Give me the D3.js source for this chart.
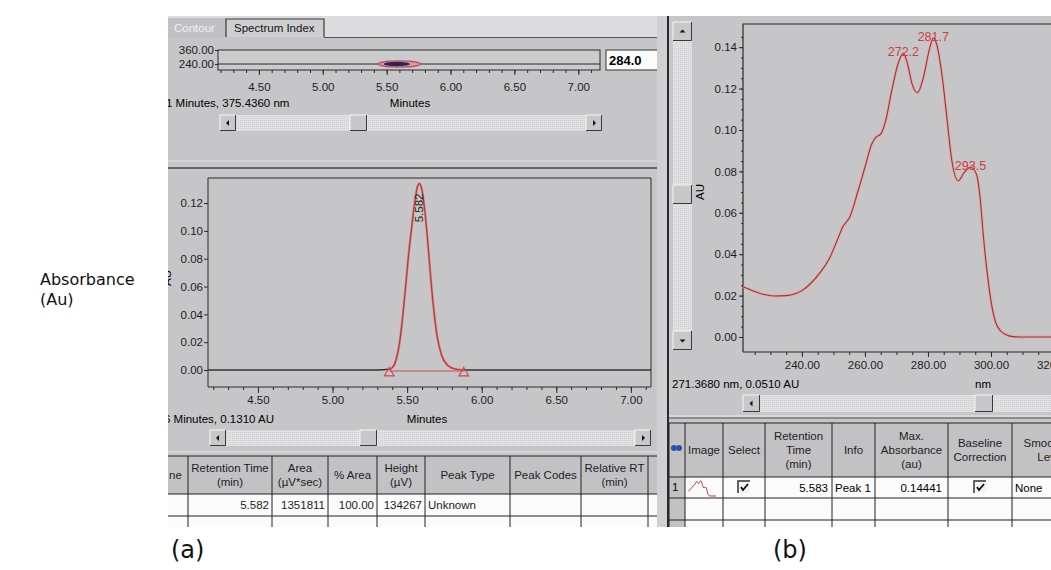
<!DOCTYPE html>
<html>
<head>
<meta charset="utf-8">
<script src="https://cdn.jsdelivr.net/npm/d3@7"></script>
<style>
body { margin: 0; background: #fff; }
svg text { font-family: "Liberation Sans", Arial, sans-serif; }
</style>
</head>
<body>
<div id="chart"></div>
<script>
// ---- chromatogram (a): retention time (min) vs absorbance (AU)
const chromTime = [4.165, 5.30, 5.38, 5.41, 5.43, 5.45, 5.47, 5.49, 5.51, 5.53, 5.55, 5.57, 5.582,
                   5.60, 5.62, 5.64, 5.66, 5.68, 5.70, 5.73, 5.77, 5.82, 5.88, 7.135];
const chromAU   = [0, 0, 0.0005, 0.003, 0.009, 0.020, 0.038, 0.060, 0.083, 0.102, 0.120, 0.132, 0.134,
                   0.129, 0.113, 0.090, 0.064, 0.042, 0.025, 0.011, 0.0035, 0.0008, 0, 0];
const peakRT = 5.582;
const peakLabel = "5.582";
const peakBounds = [5.38, 5.88];
const chromXTicks = [4.5, 5.0, 5.5, 6.0, 6.5, 7.0];
const chromYTicks = [0, 0.02, 0.04, 0.06, 0.08, 0.10, 0.12];

// ---- contour strip
const contourXTicks = [4.5, 5.0, 5.5, 6.0, 6.5, 7.0];
const contourYTicks = [240, 360];
const contourBlob = {time: 5.60, nm: 240, dt: 0.165, dnm: 26};
const contourWavelength = "284.0";

// ---- UV spectrum (b): wavelength (nm) vs absorbance (AU)
const specNm = [221.3, 225, 228, 231, 235, 238, 240, 243, 246, 249, 251, 253, 255.2, 257.9, 260, 262.1,
                263.5, 265, 266.5, 268.5, 270.5, 272.2, 273.5, 275, 276.7, 278.5, 280.3, 281.7, 283,
                284.5, 286, 287.5, 289.6, 291.5, 293.5, 295.3, 296.5, 297.6, 299.2, 300.5, 301.5, 303,
                305, 307, 310, 320];
const specAU = [0.0243, 0.0220, 0.0205, 0.0198, 0.0200, 0.0210, 0.0224, 0.0262, 0.0316, 0.0388, 0.0460,
                0.0533, 0.0580, 0.0710, 0.0820, 0.0930, 0.0965, 0.0980, 0.1040, 0.1190, 0.1320, 0.1370,
                0.1320, 0.1220, 0.1180, 0.1250, 0.1380, 0.1444, 0.1400, 0.1260, 0.1060, 0.0860, 0.0755,
                0.0795, 0.0820, 0.0790, 0.0680, 0.0485, 0.0260, 0.0130, 0.0070, 0.0030, 0.0010, 0.0002, 0, 0];
const specPeakNm = [272.2, 281.7, 293.5];
const specPeakAU = [0.1370, 0.1444, 0.0820];
const specXTicks = [240, 260, 280, 300, 320];
const specYTicks = [0, 0.02, 0.04, 0.06, 0.08, 0.10, 0.12, 0.14];

// ---- status texts
const chromCursor = "6 Minutes, 0.1310 AU";
const contourCursor = "1 Minutes, 375.4360 nm";
const specCursor = "271.3680 nm, 0.0510 AU";

// ---- peak table (a)
const peakHeaders = [["ne"], ["Retention Time", "(min)"], ["Area", "(\u00b5V*sec)"], ["% Area"],
                     ["Height", "(\u00b5V)"], ["Peak Type"], ["Peak Codes"], ["Relative RT", "(min)"], ["R"]];
const peakRow = ["", "5.582", "1351811", "100.00", "134267", "Unknown", "", "", ""];

// ---- spectrum table (b)
const specHeaders = [[""], ["Image"], ["Select"], ["Retention", "Time", "(min)"], ["Info"],
                     ["Max.", "Absorbance", "(au)"], ["Baseline", "Correction"], ["Smoothing", "Level"]];
const specRow = ["1", "", "", "5.583", "Peak 1", "0.14441", "", "None"];

const W = 1051, H = 570;
const GRAY = "#c6c6c8", DARK = "#2b2b2b", UI = "11.5px";

const svg = d3.select("#chart").append("svg")
    .attr("width", W).attr("height", H)
    .style("display", "block");

svg.append("rect").attr("width", W).attr("height", H).attr("fill", "#fff");

const defs = svg.append("defs");
const dither = defs.append("pattern").attr("id", "dither")
    .attr("width", 2).attr("height", 2).attr("patternUnits", "userSpaceOnUse");
dither.append("rect").attr("width", 2).attr("height", 2).attr("fill", "#e2e2e4");
dither.append("rect").attr("width", 1).attr("height", 1).attr("fill", "#cdcdd0");
defs.append("clipPath").attr("id", "screenClip").append("rect")
    .attr("x", 168).attr("y", 16).attr("width", W - 168).attr("height", 511);
defs.append("clipPath").attr("id", "leftClip").append("rect")
    .attr("x", 168).attr("y", 16).attr("width", 492).attr("height", 511);

// figure annotations outside the screenshot
svg.append("text").attr("x", 40).attr("y", 285)
    .style("font-family", "DejaVu Sans").style("font-size", "16px").attr("fill", "#111")
    .text("Absorbance");
svg.append("text").attr("x", 40).attr("y", 305)
    .style("font-family", "DejaVu Sans").style("font-size", "16px").attr("fill", "#111")
    .text("(Au)");
svg.append("text").attr("x", 171).attr("y", 558)
    .style("font-family", "DejaVu Sans").style("font-size", "24px").attr("fill", "#111")
    .text("(a)");
svg.append("text").attr("x", 773).attr("y", 558)
    .style("font-family", "DejaVu Sans").style("font-size", "24px").attr("fill", "#111")
    .text("(b)");

const screen = svg.append("g").attr("clip-path", "url(#screenClip)");
screen.append("rect").attr("x", 168).attr("y", 16).attr("width", W - 168).attr("height", 511)
    .attr("fill", GRAY);

// ---------- helpers
function bevel(g, x, y, w, h, fill) {
    g.append("rect").attr("x", x).attr("y", y).attr("width", w).attr("height", h).attr("fill", fill || "#c8c8ca");
    g.append("path").attr("d", `M${x},${y + h}V${y}H${x + w}`).attr("fill", "none").attr("stroke", "#f6f6f6");
    g.append("path").attr("d", `M${x},${y + h - 0.5}H${x + w - 0.5}V${y}`).attr("fill", "none").attr("stroke", "#3a3a3a");
}
function arrow(g, cx, cy, dir) {
    const s = 3;
    const pts = {
        left:  [[cx - s + 1, cy], [cx + 1, cy - s], [cx + 1, cy + s]],
        right: [[cx + s - 1, cy], [cx - 1, cy - s], [cx - 1, cy + s]],
        up:    [[cx, cy - s + 1], [cx - s, cy + 1], [cx + s, cy + 1]],
        down:  [[cx, cy + s - 1], [cx - s, cy - 1], [cx + s, cy - 1]]
    }[dir];
    g.append("path").attr("d", d3.line()(pts) + "Z").attr("fill", "#111");
}
function hScroll(g, x, y, w, h, thumbX) {
    g.append("rect").attr("x", x).attr("y", y).attr("width", w).attr("height", h).attr("fill", "url(#dither)");
    bevel(g, x, y, h, h); arrow(g, x + h / 2, y + h / 2, "left");
    bevel(g, x + w - h, y, h, h); arrow(g, x + w - h / 2, y + h / 2, "right");
    bevel(g, thumbX, y, h + 1, h);
}
function vScroll(g, x, y, w, h, thumbY) {
    g.append("rect").attr("x", x).attr("y", y).attr("width", w).attr("height", h).attr("fill", "url(#dither)");
    bevel(g, x, y, w, w); arrow(g, x + w / 2, y + w / 2, "up");
    bevel(g, x, y + h - w, w, w); arrow(g, x + w / 2, y + h - w / 2, "down");
    bevel(g, x, thumbY, w, w);
}
function styleAxis(sel) {
    sel.selectAll("path.domain").attr("stroke", DARK);
    sel.selectAll("line").attr("stroke", DARK);
    sel.selectAll("text").style("font-size", UI).attr("fill", "#1d1d1d")
        .style("font-family", "'Liberation Sans', Arial, sans-serif");
}
function minorAxis(g, axis, values, size) {
    const a = g.append("g").call(axis.tickValues(values).tickSize(size).tickFormat(""));
    a.select("path.domain").remove();
    a.selectAll("line").attr("stroke", DARK);
    return a;
}
function range(a, b, step) {
    const out = [];
    for (let v = a; v <= b + 1e-9; v += step) out.push(+v.toFixed(4));
    return out;
}

// ================= LEFT PANEL =================
const left = screen.append("g").attr("clip-path", "url(#leftClip)");

// tab strip
left.append("rect").attr("x", 168).attr("y", 16).attr("width", 492).attr("height", 21).attr("fill", "#dcdcde");
left.append("rect").attr("x", 168).attr("y", 18).attr("width", 58).attr("height", 20).attr("fill", "#c0c0c4");
left.append("text").attr("x", 174).attr("y", 32).style("font-size", UI).attr("fill", "#f1f1f1").text("Contour");
left.append("rect").attr("x", 226).attr("y", 19).attr("width", 98).attr("height", 18).attr("fill", "#cfcfd1");
left.append("path").attr("d", "M226,37V19H324V37").attr("fill", "none").attr("stroke", "#3a3a3a").attr("stroke-width", 1.2);
left.append("text").attr("x", 234).attr("y", 32).style("font-size", UI).attr("fill", "#111").text("Spectrum Index");
left.append("line").attr("x1", 324).attr("x2", 660).attr("y1", 37.5).attr("y2", 37.5).attr("stroke", "#555");

// contour strip
const xK = d3.scaleLinear().domain([4.18, 7.17]).range([218, 600]);
const yK = d3.scaleLinear().domain([240, 360]).range([64, 50]);
left.append("rect").attr("x", 218).attr("y", 50).attr("width", 382).attr("height", 20)
    .attr("fill", "#cbcbcd").attr("stroke", DARK);
left.append("line").attr("x1", 218).attr("x2", 600).attr("y1", yK(240)).attr("y2", yK(240))
    .attr("stroke", DARK).attr("stroke-width", 1.2);
left.append("ellipse")
    .attr("cx", xK(contourBlob.time)).attr("cy", yK(contourBlob.nm))
    .attr("rx", xK(contourBlob.time + contourBlob.dt) - xK(contourBlob.time))
    .attr("ry", yK(contourBlob.nm) - yK(contourBlob.nm + contourBlob.dnm))
    .attr("fill", "#c9a0b4").attr("stroke", "#d24a5a").attr("stroke-width", 1.3);
left.append("ellipse")
    .attr("cx", xK(contourBlob.time - 0.02)).attr("cy", yK(contourBlob.nm))
    .attr("rx", (xK(contourBlob.time + contourBlob.dt) - xK(contourBlob.time)) * 0.62)
    .attr("ry", (yK(contourBlob.nm) - yK(contourBlob.nm + contourBlob.dnm)) * 0.75)
    .attr("fill", "#1d2b55");
const kY = left.append("g").attr("transform", "translate(218,0)")
    .call(d3.axisLeft(yK).tickValues(contourYTicks).tickFormat(d3.format(".2f")).tickSize(3).tickPadding(1));
styleAxis(kY);
kY.select("path.domain").remove();
const kX = left.append("g").attr("transform", "translate(0,70)")
    .call(d3.axisBottom(xK).tickValues(contourXTicks).tickFormat(d3.format(".2f")).tickSize(5).tickPadding(8));
styleAxis(kX);
kX.select("path.domain").remove();
minorAxis(left.append("g").attr("transform", "translate(0,70)"), d3.axisBottom(xK), range(4.2, 7.1, 0.1), 3);
left.append("text").attr("x", 410).attr("y", 107).attr("text-anchor", "middle").style("font-size", UI).text("Minutes");
left.append("text").attr("x", 166).attr("y", 107).style("font-size", UI).text(contourCursor);
left.append("rect").attr("x", 606).attr("y", 50).attr("width", 60).attr("height", 20)
    .attr("fill", "#fbfbfb").attr("stroke", "#333");
left.append("text").attr("x", 609).attr("y", 65).style("font-size", "13px").style("font-weight", "bold")
    .text(contourWavelength);
hScroll(left, 220, 115, 382, 16, 350);

// pane splitter
left.append("line").attr("x1", 168).attr("x2", 660).attr("y1", 161).attr("y2", 161).attr("stroke", "#e0e0e2");
left.append("line").attr("x1", 168).attr("x2", 664).attr("y1", 168).attr("y2", 168).attr("stroke", "#444").attr("stroke-width", 1.5);

// chromatogram
const xC = d3.scaleLinear().domain([4.165, 7.135]).range([208, 651]);
const yC = d3.scaleLinear().domain([-0.0122, 0.138]).range([387, 178]);
left.append("path").attr("d", "M208,387V178H651V387").attr("fill", "none").attr("stroke", DARK);
left.append("text").attr("transform", "translate(171,278) rotate(-90)").attr("text-anchor", "middle")
    .style("font-size", UI).text("AU");
const cY = left.append("g").attr("transform", "translate(208,0)")
    .call(d3.axisLeft(yC).tickValues(chromYTicks).tickFormat(d3.format(".2f")).tickSize(4).tickPadding(1));
styleAxis(cY);
cY.select("path.domain").remove();
const cX = left.append("g").attr("transform", "translate(0,387)")
    .call(d3.axisBottom(xC).tickValues(chromXTicks).tickFormat(d3.format(".2f")).tickSize(6).tickPadding(3));
styleAxis(cX);
cX.select("path.domain").attr("d", "M208,0H651");
minorAxis(left.append("g").attr("transform", "translate(0,387)"), d3.axisBottom(xC), range(4.2, 7.1, 0.1), 3);

// integration baseline (red) between the peak marks
left.append("line").attr("x1", xC(peakBounds[0])).attr("x2", xC(peakBounds[1]))
    .attr("y1", yC(0) + 1).attr("y2", yC(0) + 1).attr("stroke", "#d04a4a").attr("stroke-width", 1.2);
// detector trace: red on the peak, dark along the flat baseline
const chromLine = d3.line().x(i => xC(chromTime[i])).y(i => yC(chromAU[i])).curve(d3.curveMonotoneX);
const peakIdxs = d3.range(chromTime.length).filter(i => chromTime[i] >= peakBounds[0] && chromTime[i] <= peakBounds[1]);
left.append("path").attr("d", chromLine(d3.range(chromTime.length)))
    .attr("fill", "none").attr("stroke", "#333").attr("stroke-width", 1.5);
left.append("path").attr("d", chromLine(peakIdxs))
    .attr("fill", "none").attr("stroke", "#e88a8a").attr("stroke-width", 2.6).attr("opacity", 0.8);
left.append("path").attr("d", chromLine(peakIdxs))
    .attr("fill", "none").attr("stroke", "#b33a3a").attr("stroke-width", 1.1);
left.selectAll(".bnd").data(peakBounds).enter().append("path")
    .attr("transform", d => `translate(${xC(d)},${yC(0) + 3})`)
    .attr("d", d3.symbol(d3.symbolTriangle, 40))
    .attr("fill", "none").attr("stroke", "#d04a4a").attr("stroke-width", 1.2);
const peakIdx = chromTime.indexOf(peakRT);
left.append("text")
    .attr("transform", `translate(${xC(peakRT) + 4},${yC(chromAU[peakIdx]) + 10}) rotate(-90)`)
    .attr("text-anchor", "end").style("font-size", UI).attr("fill", "#222").text(peakLabel);

left.append("text").attr("x", 427).attr("y", 423).attr("text-anchor", "middle").style("font-size", UI).text("Minutes");
left.append("text").attr("x", 164).attr("y", 423).style("font-size", UI).text(chromCursor);
hScroll(left, 210, 430, 441, 16, 360);
left.append("line").attr("x1", 168).attr("x2", 660).attr("y1", 452).attr("y2", 452).attr("stroke", "#e6e6e8");

// peak table
const peakEdges = [120, 188, 272, 328, 377, 425, 510, 581, 648, 700];
const peakAlign = ["start", "end", "end", "end", "end", "start", "start", "start", "start"];
const tL = left.append("g");
const headTop = 456, headH = 38, rowH = 22;
peakHeaders.forEach((lines, i) => {
    const x0 = peakEdges[i], x1 = peakEdges[i + 1];
    tL.append("rect").attr("x", x0).attr("y", headTop).attr("width", x1 - x0).attr("height", headH).attr("fill", "#c2c2c5");
    tL.append("rect").attr("x", x0).attr("y", headTop + headH).attr("width", x1 - x0).attr("height", rowH * 3).attr("fill", "#fbfbfb");
    const cx = i === 0 ? 169 : (x0 + x1) / 2;
    const mid = headTop + headH / 2 + 4;
    lines.forEach((t, j) => {
        tL.append("text").attr("x", cx).attr("y", mid + (j - (lines.length - 1) / 2) * 14)
            .attr("text-anchor", i === 0 ? "start" : "middle").style("font-size", UI).attr("fill", "#1d1d1d").text(t);
    });
    const v = peakRow[i];
    if (v) tL.append("text").attr("x", peakAlign[i] === "end" ? x1 - 3 : x0 + 3)
        .attr("y", headTop + headH + 15).attr("text-anchor", peakAlign[i]).style("font-size", UI).attr("fill", "#1d1d1d").text(v);
});
peakEdges.forEach(x => tL.append("line").attr("x1", x).attr("x2", x).attr("y1", headTop).attr("y2", 530).attr("stroke", "#222"));
[headTop, headTop + headH, headTop + headH + rowH, headTop + headH + 2 * rowH].forEach(y =>
    tL.append("line").attr("x1", 168).attr("x2", 660).attr("y1", y).attr("y2", y).attr("stroke", "#222"));

// splitter between panels
screen.append("rect").attr("x", 657).attr("y", 16).attr("width", 10).attr("height", 511).attr("fill", "#d0d0d2");
screen.append("line").attr("x1", 668).attr("x2", 668).attr("y1", 16).attr("y2", 527).attr("stroke", "#2a2a2a").attr("stroke-width", 2);

// ================= RIGHT PANEL =================
const right = screen.append("g");
vScroll(right, 673, 22, 19, 328, 185);
right.append("text").attr("transform", "translate(704,192) rotate(-90)").attr("text-anchor", "middle")
    .style("font-size", UI).text("AU");

const xS = d3.scaleLinear().domain([221.3, 320]).range([743, 1054]);
const yS = d3.scaleLinear().domain([-0.00725, 0.1512]).range([352, 24]);
right.append("path").attr("d", "M743,352V24H1060").attr("fill", "none").attr("stroke", DARK).attr("stroke-width", 1.2);
const sY = right.append("g").attr("transform", "translate(743,0)")
    .call(d3.axisLeft(yS).tickValues(specYTicks).tickFormat(d3.format(".2f")).tickSize(4).tickPadding(2));
styleAxis(sY);
sY.select("path.domain").remove();
minorAxis(right.append("g").attr("transform", "translate(743,0)"), d3.axisLeft(yS), range(0.005, 0.145, 0.005), 2);
const sX = right.append("g").attr("transform", "translate(0,352)")
    .call(d3.axisBottom(xS).tickValues(specXTicks).tickFormat(d3.format(".2f")).tickSize(5).tickPadding(4));
styleAxis(sX);
sX.select("path.domain").attr("d", "M743,0H1060");
minorAxis(right.append("g").attr("transform", "translate(0,352)"), d3.axisBottom(xS), range(225, 320, 5), 3);

const specLine = d3.line().x(i => xS(specNm[i])).y(i => yS(specAU[i])).curve(d3.curveMonotoneX);
right.append("path").attr("d", specLine(d3.range(specNm.length)))
    .attr("fill", "none").attr("stroke", "#eba2a2").attr("stroke-width", 3).attr("opacity", 0.75);
right.append("path").attr("d", specLine(d3.range(specNm.length)))
    .attr("fill", "none").attr("stroke", "#9a3434").attr("stroke-width", 1.1);
right.selectAll(".lmax").data(specPeakNm).enter().append("text")
    .attr("x", d => xS(d)).attr("y", (d, i) => yS(specPeakAU[i]) + 3)
    .attr("text-anchor", "middle").style("font-size", "12.5px").attr("fill", "#d23c3c")
    .text(d => d3.format(".1f")(d));

right.append("text").attr("x", 672).attr("y", 388).style("font-size", UI).text(specCursor);
right.append("text").attr("x", 983).attr("y", 388).attr("text-anchor", "middle").style("font-size", UI).text("nm");
hScroll(right, 743, 395, 340, 17, 975);
right.append("line").attr("x1", 669).attr("x2", 1051).attr("y1", 416).attr("y2", 416).attr("stroke", "#e8e8ea");
right.append("line").attr("x1", 669).attr("x2", 1051).attr("y1", 418).attr("y2", 418).attr("stroke", "#555");

// spectrum table
const specEdges = [669, 685, 723, 765, 832, 875, 948, 1012, 1090];
const sHeadTop = 423, sHeadH = 54, sRowH = 21;
const tR = right.append("g");
specHeaders.forEach((lines, i) => {
    const x0 = specEdges[i], x1 = specEdges[i + 1];
    tR.append("rect").attr("x", x0).attr("y", sHeadTop).attr("width", x1 - x0).attr("height", sHeadH).attr("fill", "#c2c2c5");
    tR.append("rect").attr("x", x0).attr("y", sHeadTop + sHeadH).attr("width", x1 - x0).attr("height", sRowH * 3)
        .attr("fill", i === 0 ? "#c2c2c5" : "#fbfbfb");
    const mid = sHeadTop + sHeadH / 2 + 4;
    lines.forEach((t, j) => {
        tR.append("text").attr("x", (x0 + x1) / 2).attr("y", mid + (j - (lines.length - 1) / 2) * 14)
            .attr("text-anchor", "middle").style("font-size", UI).attr("fill", "#1d1d1d").text(t);
    });
});
// row selector icon
tR.append("circle").attr("cx", 674).attr("cy", 448).attr("r", 3).attr("fill", "#2c4fae");
tR.append("circle").attr("cx", 679).attr("cy", 448).attr("r", 3).attr("fill", "#2c4fae");
const rY = sHeadTop + sHeadH;
tR.append("text").attr("x", 672).attr("y", rY + 14).style("font-size", UI).text(specRow[0]);
tR.append("text").attr("x", specEdges[4] - 4).attr("y", rY + 15).attr("text-anchor", "end").style("font-size", UI).text(specRow[3]);
tR.append("text").attr("x", specEdges[4] + 3).attr("y", rY + 15).style("font-size", UI).text(specRow[4]);
tR.append("text").attr("x", specEdges[6] - 6).attr("y", rY + 15).attr("text-anchor", "end").style("font-size", UI).text(specRow[5]);
tR.append("text").attr("x", specEdges[7] + 3).attr("y", rY + 15).style("font-size", UI).text(specRow[7]);
// thumbnail of the spectrum
const xT = d3.scaleLinear().domain([250, 320]).range([688, 716]);
const yT = d3.scaleLinear().domain([0, 0.15]).range([rY + 19, rY + 3]);
tR.append("path").attr("d", d3.line().x(i => xT(specNm[i])).y(i => yT(specAU[i]))(d3.range(specNm.length).filter(i => specNm[i] >= 250)))
    .attr("fill", "none").attr("stroke", "#c83b3b").attr("stroke-width", 1);
// check boxes
[(specEdges[2] + specEdges[3]) / 2, (specEdges[6] + specEdges[7]) / 2].forEach(cx => {
    const x = cx - 6, y = rY + 4;
    tR.append("rect").attr("x", x).attr("y", y).attr("width", 12).attr("height", 12).attr("fill", "#f4f4f4");
    tR.append("path").attr("d", `M${x},${y + 12}V${y}H${x + 12}`).attr("fill", "none").attr("stroke", "#333").attr("stroke-width", 1.5);
    tR.append("path").attr("d", `M${x + 3},${y + 6}L${x + 5},${y + 9}L${x + 10},${y + 3}`)
        .attr("fill", "none").attr("stroke", "#111").attr("stroke-width", 1.8);
});
specEdges.forEach(x => tR.append("line").attr("x1", x).attr("x2", x).attr("y1", sHeadTop).attr("y2", 530).attr("stroke", "#222"));
[sHeadTop, rY, rY + sRowH, rY + 2 * sRowH + 1].forEach(y =>
    tR.append("line").attr("x1", 669).attr("x2", 1051).attr("y1", y).attr("y2", y).attr("stroke", "#222"));
</script>
</body>
</html>
